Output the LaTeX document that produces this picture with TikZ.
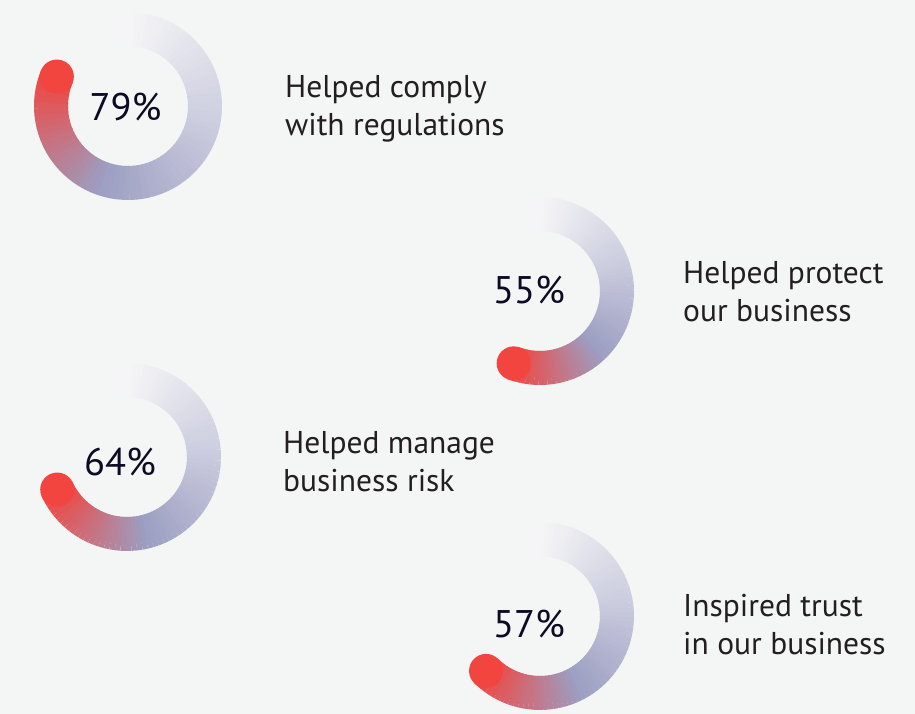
\documentclass[tikz,border=0pt]{standalone}
\usepackage{fontspec}
\setmainfont{PT Sans}
\usetikzlibrary{calc}

\definecolor{bgcol}{HTML}{F4F6F5}
\definecolor{ringstart}{HTML}{F5F5F7}
\definecolor{ringlight}{HTML}{CBCCDE}
\definecolor{ringblue}{HTML}{9C9EC2}
\definecolor{ringred}{HTML}{F2453F}
\definecolor{pctcol}{HTML}{0B0B24}
\definecolor{txtcol}{HTML}{231F20}

\tikzset{
  ringseg/.style={line width=34pt,line cap=butt},
  pct/.style={anchor=base,inner sep=0pt,text=pctcol,font=\fontsize{38.5}{42}\selectfont},
  caption/.style={anchor=base west,inner sep=0pt,align=left,text=txtcol,
    font=\fontsize{31.5}{38}\selectfont}
}

\begin{document}
\begin{tikzpicture}[x=1pt,y=1pt]

\fill[bgcol] (0,0) rectangle (915,714);
\useasboundingbox (0,0) rectangle (915,714);

% rings: name/centre/sweep
\foreach \nm/\cx/\cy/\sw in {comply/128/608/292.5,protect/540/423/200,
                             risk/127/257/245,trust/540/98/224.5}{
  \coordinate (\nm) at (\cx,\cy);
  \fill[ringstart] ($(\nm)+(90:77)$) circle (17);
  \pgfmathsetmacro\st{\sw/72}
  \foreach \i in {0,...,71}{
    \pgfmathsetmacro\t{\i/71}
    \pgfmathsetmacro\a{90-\st*\i}
    \pgfmathsetmacro\b{90-\st*(\i+1)-0.6}
    \ifdim\t pt<0.35pt
      \pgfmathtruncatemacro\p{100*\t/0.35}
      \colorlet{segc}{ringlight!\p!ringstart}
    \else\ifdim\t pt<0.68pt
      \pgfmathtruncatemacro\p{100*(\t-0.35)/0.33}
      \colorlet{segc}{ringblue!\p!ringlight}
    \else
      \pgfmathtruncatemacro\p{100*(\t-0.68)/0.32}
      \colorlet{segc}{ringred!\p!ringblue}
    \fi\fi
    \draw[ringseg,segc] ($(\nm)+(\a:77)$) arc[start angle=\a,end angle=\b,radius=77];
  }
  \fill[ringred] ($(\nm)+(90-\sw:77)$) circle (17);
}

\node[pct] (comply-pct) at (125.5,593.3) {79\%};
\node[pct] (protect-pct) at (529,410) {55\%};
\node[pct] (risk-pct) at (120,238) {64\%};
\node[pct] (trust-pct) at (529,76.7) {57\%};

% base anchor sits on the second line
\node[caption] (comply-txt) at (285,578) {Helped comply\\with regulations};
\node[caption] (protect-txt) at (683,392.3) {Helped protect\\our business};
\node[caption] (risk-txt) at (283,222.3) {Helped manage\\business risk};
\node[caption] (trust-txt) at (683,59) {Inspired trust\\in our business};
\end{tikzpicture}
\end{document}
